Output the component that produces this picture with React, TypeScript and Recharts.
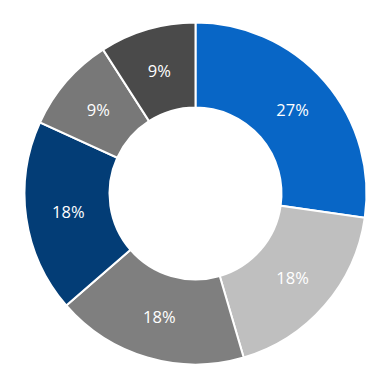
import { PieChart, Pie, Cell } from 'recharts';

const categories = ['A', 'B', 'C', 'D', 'E', 'F'];
const values = [3, 2, 2, 2, 1, 1];
const colors = ['#0866C6', '#BFBFBF', '#7F7F7F', '#033D76', '#787878', '#4A4A4A'];

const data = categories.map((name, i) => ({ name, value: values[i] }));

const RADIAN = Math.PI / 180;

const renderLabel = (props: any) => {
  const { cx, cy, midAngle, innerRadius, outerRadius, percent } = props;
  const r = (innerRadius + outerRadius) / 2;
  const x = cx + r * Math.cos(-midAngle * RADIAN);
  const y = cy + r * Math.sin(-midAngle * RADIAN);
  return (
    <text
      x={x}
      y={y}
      fill="#fff"
      textAnchor="middle"
      dominantBaseline="central"
      fontSize={16.5}
      fontFamily="'Open Sans', sans-serif"
    >
      {`${Math.round(percent * 100)}%`}
    </text>
  );
};

export default function App() {
  return (
    <div style={{ position: 'absolute', left: 0, top: 0, width: 386, height: 386, background: '#fff' }}>
      <PieChart width={386} height={386} margin={{ top: 0, right: 0, bottom: 0, left: 0 }}>
        <Pie
          data={data}
          dataKey="value"
          cx={195.5}
          cy={193.5}
          innerRadius={86}
          outerRadius={171}
          startAngle={90}
          endAngle={-270}
          stroke="#fff"
          strokeWidth={2}
          label={renderLabel}
          labelLine={false}
          isAnimationActive={false}
        >
          {data.map((d, i) => (
            <Cell key={d.name} fill={colors[i]} />
          ))}
        </Pie>
      </PieChart>
    </div>
  );
}
